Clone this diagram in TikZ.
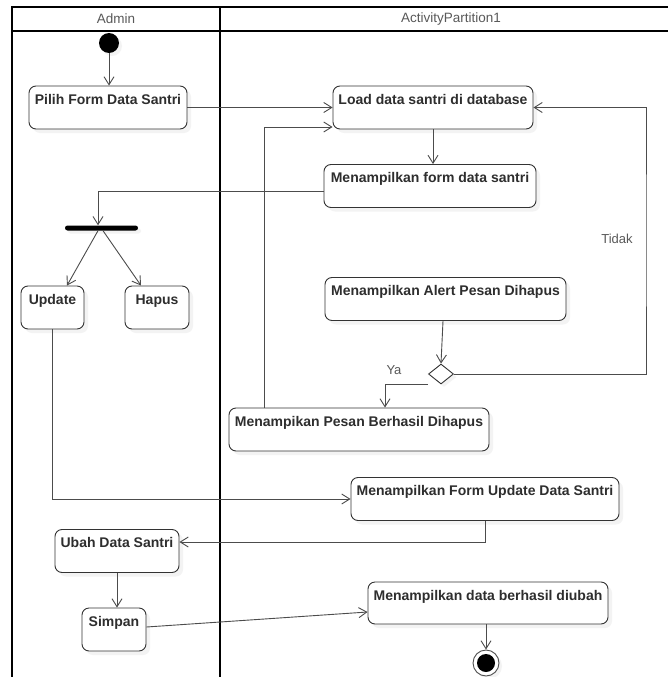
\documentclass[tikz,border=0pt]{standalone}
\usepackage{fontspec}
\setmainfont{Liberation Sans}
\usetikzlibrary{arrows.meta,shadows,shapes.geometric,calc}
\begin{document}
\begin{tikzpicture}[x=1pt,y=-1pt,
  conn/.style={draw=black!70, line width=0.9pt, -{Straight Barb[length=8pt,width=10pt,line width=0.9pt]}},
  act/.style={draw=black!80, line width=0.9pt, rounded corners=7pt, fill=white,
    font=\fontsize{14}{14}\selectfont\bfseries, text=black!82,
    text height=18pt, text depth=25pt, inner ysep=0pt, inner xsep=0pt,
    drop shadow={shadow xshift=4pt, shadow yshift=-4pt, fill=black!9}},
  lane/.style={line width=1.6pt, draw=black},
  hdr/.style={font=\fontsize{13.5}{13.5}\selectfont, text=black!65},
  guard/.style={font=\fontsize{13}{13}\selectfont, text=black!65},
]
\useasboundingbox (0,0) rectangle (668,677);
\fill[white] (0,0) rectangle (668,677);

% swimlanes
\draw[lane] (668,7) -- (12,7) -- (12,677);
\draw[lane] (220,7) -- (220,677);
\draw[line width=1.4pt] (12,31) -- (668,31);
\node[hdr] (hA) at (116,19) {Admin};
\node[hdr] (hP) at (451,19) {ActivityPartition1};

% nodes
\node[circle, fill=black, minimum size=20pt, inner sep=0pt,
  drop shadow={shadow xshift=3pt, shadow yshift=-3pt, fill=black!9}] (init) at (109,43) {};
\node[act, minimum width=158pt] (pilih) at (108,107.5) {Pilih Form Data Santri};
\node[act, minimum width=200pt] (load) at (433,107.5) {Load data santri di database};
\node[act, minimum width=212pt] (form) at (430,186) {Menampilkan form data santri};
\node[fill=black, rounded corners=2.5pt, minimum width=73pt, minimum height=5pt, inner sep=0pt,
  drop shadow={shadow xshift=3pt, shadow yshift=-3pt, fill=black!9}] (fork) at (101.5,228) {};
\node[act, minimum width=63pt] (update) at (52.5,307.5) {Update};
\node[act, minimum width=64pt] (hapus) at (157,307.5) {Hapus};
\node[act, minimum width=241pt] (alert) at (445.5,299) {Menampilkan Alert Pesan Dihapus};
\node[diamond, draw=black!80, line width=0.9pt, fill=white, minimum width=25pt, minimum height=20pt, inner sep=0pt,
  drop shadow={shadow xshift=3pt, shadow yshift=-3pt, fill=black!9}] (dec) at (441,374) {};
\node[act, minimum width=260pt] (berhasil) at (359,429.5) {Menampikan Pesan Berhasil Dihapus};
\node[act, minimum width=268pt] (fupdate) at (485,499) {Menampilkan Form Update Data Santri};
\node[act, minimum width=124pt] (ubah) at (117,551) {Ubah Data Santri};
\node[act, minimum width=64pt] (simpan) at (114,629.5) {Simpan};
\node[act, minimum width=240pt, text depth=24pt] (diubah) at (488,603) {Menampilkan data berhasil diubah};
\node[circle, draw=black!70, line width=0.9pt, fill=white, minimum size=26pt, inner sep=0pt,
  drop shadow={shadow xshift=3pt, shadow yshift=-3pt, fill=black!9}] (fin) at (486,663) {};
\node[circle, fill=black, minimum size=18pt, inner sep=0pt] (finin) at (fin) {};

\coordinate (yaS) at (428,384);
\coordinate (tidakX) at (646,240);

% connectors
\draw[conn] (init.south) -- (init.south |- pilih.north);
\draw[conn] (pilih.east) -- (load.west);
\draw[conn] (load.south) -- (load.south |- form.north);
\draw[conn] ([yshift=-5pt]form.west) -| ([xshift=-3.5pt]fork.north);
\draw[conn] ([xshift=-3.5pt]fork.south) -- ([xshift=14.5pt]update.north);
\draw[conn] ([xshift=1.5pt]fork.south) -- ([xshift=-16pt]hapus.north);
\draw[conn] ([xshift=-2.5pt]alert.south) -- (dec.north);
\draw[conn] (yaS) -| ([xshift=26pt]berhasil.north);
\draw[conn] (dec.east) -| (tidakX) |- (load.east);
\draw[conn] ([xshift=-95pt]berhasil.north) |- ([yshift=-19.5pt]load.west);
\draw[conn] (update.south) |- (fupdate.west);
\draw[conn] (fupdate.south) |- ([yshift=9pt]ubah.east);
\draw[conn] (ubah.south) -- (ubah.south |- simpan.north);
\draw[conn] ([yshift=2.5pt]simpan.east) -- ([yshift=-9pt]diubah.west);
\draw[conn] (fin.north |- diubah.south) -- (fin.north);

% guards
\node[guard] (ya) at (394,370) {Ya};
\node[guard] (tidak) at (617,239) {Tidak};
\end{tikzpicture}
\end{document}
